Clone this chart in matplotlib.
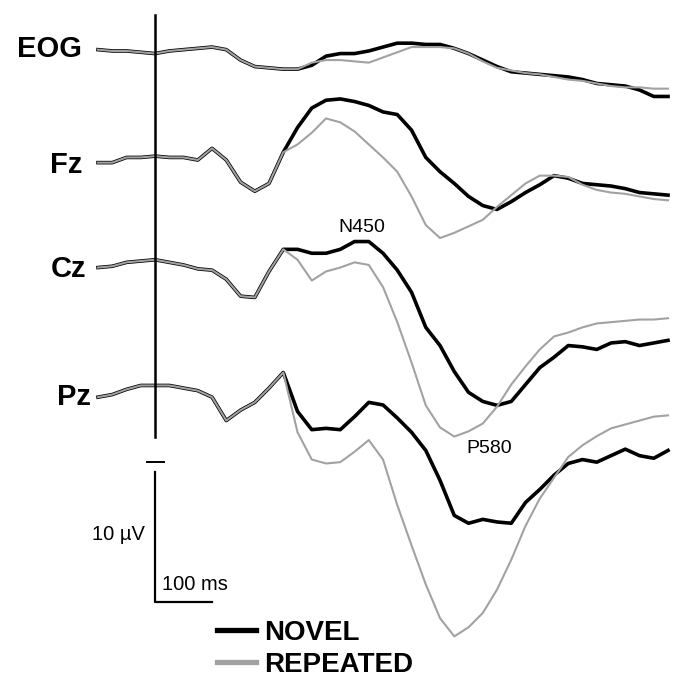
import matplotlib
matplotlib.use("Agg")
import matplotlib.pyplot as plt
import numpy as np

# time grid (ms) shared by all traces, -100 .. 900 ms
times = np.arange(-100, 901, 25)

channels = ["EOG", "Fz", "Cz", "Pz"]
# vertical offset of each channel baseline (uV units, negative up)
offsets = [3.92, 12.31, 20.38, 30.15]

# amplitudes in uV (positive plotted downward, ERP convention)
eog_novel = [-0.1, 0.0, 0.0, 0.1, 0.2, 0.0, -0.1, -0.2, -0.3, -0.1, 0.7, 1.2, 1.3, 1.4, 1.4,
             1.1, 0.4, 0.2, 0.2, 0.0, -0.3, -0.6, -0.6, -0.5, -0.5, -0.2, 0.2, 0.7, 1.2, 1.6,
             1.7, 1.8, 1.9, 2.0, 2.2, 2.5, 2.6, 2.7, 3.0, 3.5, 3.5]
eog_repeated = [-0.1, 0.0, 0.0, 0.1, 0.2, 0.0, -0.1, -0.2, -0.3, -0.1, 0.7, 1.2, 1.3, 1.4, 1.4,
                0.9, 0.7, 0.7, 0.8, 0.9, 0.5, 0.1, -0.3, -0.3, -0.3, -0.2, 0.2, 0.8, 1.3, 1.5,
                1.7, 1.8, 2.0, 2.2, 2.3, 2.5, 2.7, 2.8, 2.8, 2.9, 2.9]

fz_novel = [0.2, 0.2, -0.2, -0.2, -0.3, -0.2, -0.2, 0.0, -0.9, 0.0, 1.7, 2.4, 1.8, -0.6,
            -2.5, -4.0, -4.6, -4.7, -4.5, -4.2, -3.7, -3.5, -2.3, -0.2, 0.9, 1.8, 2.8, 3.5,
            3.8, 3.2, 2.5, 1.9, 1.2, 1.4, 1.8, 1.9, 2.0, 2.2, 2.5, 2.6, 2.7]
fz_repeated = [0.2, 0.2, -0.2, -0.2, -0.3, -0.2, -0.2, 0.0, -0.9, 0.0, 1.7, 2.4, 1.8, -0.6,
               -1.2, -2.1, -3.2, -2.9, -2.2, -1.2, -0.2, 0.9, 2.8, 5.0, 6.0, 5.6, 5.1, 4.6,
               3.6, 2.7, 1.8, 1.2, 1.2, 1.3, 1.9, 2.3, 2.5, 2.6, 2.8, 3.0, 3.1]

cz_novel = [0.2, 0.1, -0.2, -0.3, -0.4, -0.2, 0.0, 0.3, 0.4, 1.1, 2.4, 2.5, 0.5, -1.2,
            -1.2, -0.9, -0.9, -1.2, -1.8, -1.8, -0.9, 0.4, 2.1, 4.8, 6.2, 8.2, 9.8, 10.5,
            10.8, 10.5, 9.2, 7.9, 7.1, 6.2, 6.3, 6.5, 6.0, 5.9, 6.2, 6.0, 5.8]
cz_repeated = [0.2, 0.1, -0.2, -0.3, -0.4, -0.2, 0.0, 0.3, 0.4, 1.1, 2.4, 2.5, 0.5, -1.2,
               -0.4, 1.2, 0.5, 0.2, -0.2, 0.0, 1.7, 4.4, 7.5, 10.8, 12.5, 13.2, 12.8, 12.2,
               10.9, 9.2, 7.8, 6.5, 5.5, 5.2, 4.8, 4.5, 4.4, 4.3, 4.2, 4.2, 4.1]

pz_novel = [0.4, 0.2, -0.2, -0.5, -0.5, -0.5, -0.3, -0.1, 0.4, 2.2, 1.4, 0.8, -0.3, -1.5,
            1.5, 2.9, 2.8, 2.9, 1.9, 0.8, 1.0, 2.0, 3.1, 4.5, 6.8, 9.5, 10.1, 9.8,
            10.0, 10.1, 8.5, 7.5, 6.4, 5.5, 5.2, 5.4, 4.9, 4.4, 4.9, 5.1, 4.5]
pz_repeated = [0.4, 0.2, -0.2, -0.5, -0.5, -0.5, -0.3, -0.1, 0.4, 2.2, 1.4, 0.8, -0.3, -1.5,
               3.1, 5.2, 5.5, 5.4, 4.6, 3.7, 5.2, 8.7, 11.8, 14.8, 17.4, 18.8, 18.1, 17.0,
               15.2, 12.9, 10.3, 8.2, 6.6, 5.0, 4.1, 3.4, 2.8, 2.5, 2.2, 1.9, 1.8]

novel = [eog_novel, fz_novel, cz_novel, pz_novel]
repeated = [eog_repeated, fz_repeated, cz_repeated, pz_repeated]

# label placement: (right edge in ms, baseline in uV units)
label_pos = [(-128, 4.38), (-128, 13.3), (-121, 21.3), (-112, 31.15)]

peak_labels = ["N450", "P580"]
peak_pos = [(321, 17.85), (547, 34.85)]

NOVEL_COLOR = "black"
REPEATED_COLOR = "#a2a2a2"

plt.rcParams["font.family"] = ["Liberation Sans", "DejaVu Sans"]

fig = plt.figure(figsize=(6.78, 6.82), dpi=100)
ax = fig.add_axes([0, 0, 1, 1])
ax.set_xlim(-272, 917.5)
ax.set_ylim(52.46, 0)
ax.axis("off")

for name, off, nv, rp, (lx, ly) in zip(channels, offsets, novel, repeated, label_pos):
    ax.plot(times, off + np.array(nv), color=NOVEL_COLOR, lw=2.6, solid_joinstyle="round",
            label="NOVEL" if name == "Pz" else None)
    ax.plot(times, off + np.array(rp), color=REPEATED_COLOR, lw=1.5,
            label="REPEATED" if name == "Pz" else None)
    ax.text(lx, ly, name, ha="right", va="baseline", fontsize=21, fontweight="bold")

# stimulus onset line
ax.plot([0, 0], [1.15, 33.6], color="black", lw=1.8)

for txt, (px, py) in zip(peak_labels, peak_pos):
    ax.text(px, py, txt, ha="left", va="baseline", fontsize=14)

# calibration bars: 10 uV / 100 ms
ax.plot([-14, 16], [35.5, 35.5], color="black", lw=1.4)
ax.plot([0, 0, 100], [36.3, 46.3, 46.3], color="black", lw=1.6)
ax.text(-17.5, 41.5, "10 µV", ha="right", va="baseline", fontsize=14.5)
ax.text(12, 45.4, "100 ms", ha="left", va="baseline", fontsize=14.5)

leg = ax.legend(loc="upper left", bbox_to_anchor=(217 / 678, 1 - 620 / 682),
                frameon=False, borderpad=0, borderaxespad=0, handlelength=1.4,
                handletextpad=0.3, labelspacing=0.2,
                prop={"weight": "bold", "size": 20})
for h in leg.legend_handles:
    h.set_linewidth(3.8)

fig.savefig("out.png", dpi=100)
